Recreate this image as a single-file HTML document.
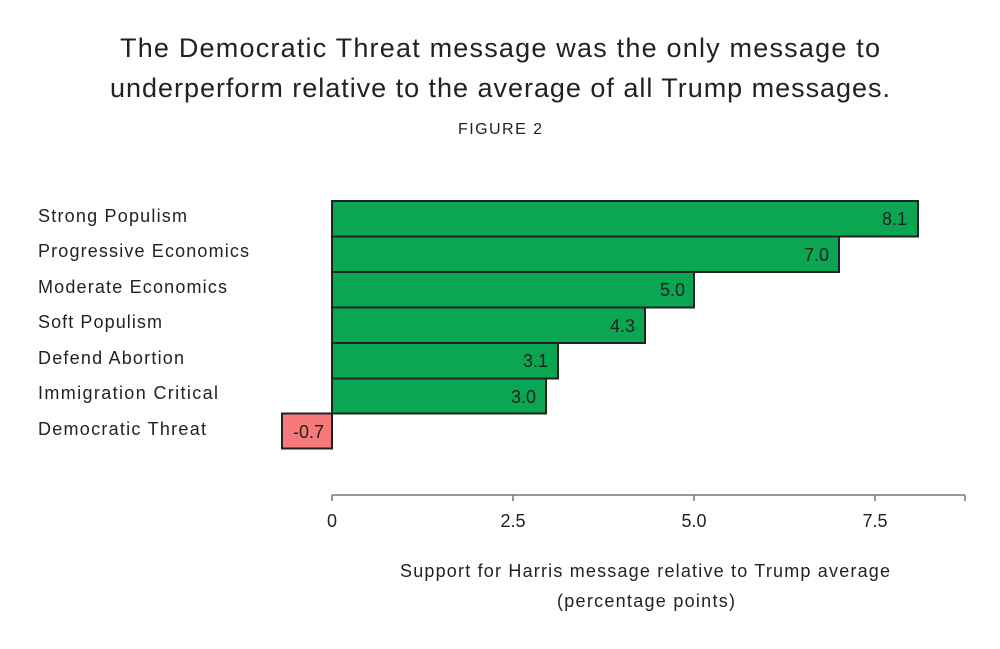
<!DOCTYPE html>
<html><head><meta charset="utf-8"><style>
html,body{margin:0;padding:0;background:#fff;}
svg{display:block;font-family:"Liberation Sans",sans-serif;}
</style></head><body>
<svg width="1000" height="649" viewBox="0 0 1000 649">
<text x="500" y="57" font-size="27" text-anchor="middle" fill="#222" textLength="760" lengthAdjust="spacing">The Democratic Threat message was the only message to</text>
<text x="500" y="97" font-size="27" text-anchor="middle" fill="#222" textLength="780" lengthAdjust="spacing">underperform relative to the average of all Trump messages.</text>
<text x="500" y="134" font-size="16" text-anchor="middle" fill="#222" textLength="84" lengthAdjust="spacing">FIGURE 2</text>
<g font-size="18" fill="#222">
<text x="38" y="222" textLength="149" lengthAdjust="spacing">Strong Populism</text>
<text x="38" y="257" textLength="211" lengthAdjust="spacing">Progressive Economics</text>
<text x="38" y="293" textLength="189" lengthAdjust="spacing">Moderate Economics</text>
<text x="38" y="328" textLength="124" lengthAdjust="spacing">Soft Populism</text>
<text x="38" y="364" textLength="146" lengthAdjust="spacing">Defend Abortion</text>
<text x="38" y="399" textLength="180" lengthAdjust="spacing">Immigration Critical</text>
<text x="38" y="435" textLength="168" lengthAdjust="spacing">Democratic Threat</text>
</g>
<g stroke="#222" stroke-width="2" fill="#0ba652">
<rect x="332" y="201" width="586" height="35.5"/>
<rect x="332" y="236.5" width="507" height="35.5"/>
<rect x="332" y="272" width="362" height="35.5"/>
<rect x="332" y="307.5" width="313" height="35.5"/>
<rect x="332" y="343" width="226" height="35.5"/>
<rect x="332" y="378.5" width="214" height="35"/>
<rect x="282" y="413.5" width="50" height="35" fill="#f77a7a"/>
</g>
<g font-size="18" fill="#222" text-anchor="end">
<text x="907" y="225">8.1</text>
<text x="829" y="261">7.0</text>
<text x="685" y="296">5.0</text>
<text x="635" y="332">4.3</text>
<text x="548" y="367">3.1</text>
<text x="536" y="403">3.0</text>
<text x="324" y="438">-0.7</text>
</g>
<g stroke="#777" stroke-width="1.5" fill="none">
<line x1="332" y1="495" x2="965" y2="495"/>
<line x1="332" y1="495" x2="332" y2="501"/>
<line x1="513" y1="495" x2="513" y2="501"/>
<line x1="694" y1="495" x2="694" y2="501"/>
<line x1="875" y1="495" x2="875" y2="501"/>
<line x1="965" y1="495" x2="965" y2="501"/>
</g>
<g font-size="18" fill="#222" text-anchor="middle">
<text x="332" y="527">0</text>
<text x="513" y="527">2.5</text>
<text x="694" y="527">5.0</text>
<text x="875" y="527">7.5</text>
<text x="645" y="577" textLength="490" lengthAdjust="spacing">Support for Harris message relative to Trump average</text>
<text x="646" y="607" textLength="178" lengthAdjust="spacing">(percentage points)</text>
</g>
</svg>
</body></html>
